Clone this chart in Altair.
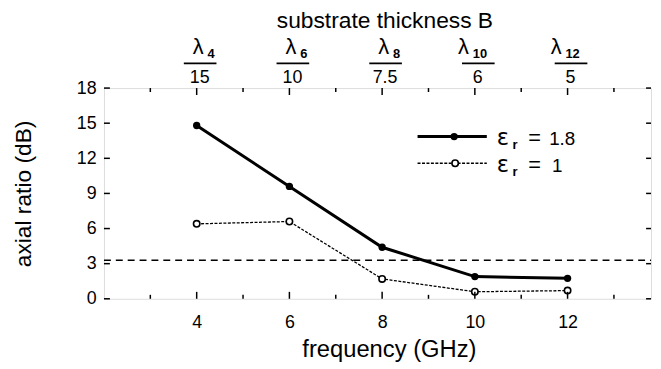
import altair as alt
import pandas as pd

# ---- data ----
freq = [4, 6, 8, 10, 12]
ar_er18 = [14.8, 9.6, 4.4, 1.9, 1.75]
ar_er1 = [6.4, 6.6, 1.7, 0.6, 0.7]
ref_level = [3.3]
sub_labels = ["4", "6", "8", "10", "12"]
denoms = ["15", "10", "7.5", "6", "5"]
y_ticks = [0, 3, 6, 9, 12, 15, 18]
x_major = [4, 6, 8, 10, 12]
x_minor = [3, 5, 7, 9, 11, 13]

FONT = "Liberation Sans"
W, H = 553, 213

xs = alt.Scale(domain=[2, 13.8], nice=False, zero=False)
ys = alt.Scale(domain=[0, 18], nice=False)

xaxis = alt.Axis(values=x_major, ticks=False, domain=False, grid=False,
                 labelFont=FONT, labelFontSize=18, labelPadding=15, labelColor="black",
                 title="frequency (GHz)", titleFont=FONT, titleFontSize=24,
                 titleFontWeight="normal", titleColor="black", titlePadding=6, titleX=288)
yaxis = alt.Axis(values=y_ticks, ticks=False, domain=False, grid=False,
                 labelFont=FONT, labelFontSize=18, labelPadding=8, labelColor="black",
                 title="axial ratio (dB)", titleFont=FONT, titleFontSize=23,
                 titleFontWeight="normal", titleColor="black", titlePadding=41)


def X(field):
    return alt.X(field, type="quantitative", scale=xs, axis=xaxis)


def Y(field):
    return alt.Y(field, type="quantitative", scale=ys, axis=yaxis)


df18 = pd.DataFrame({"f": freq, "ar": ar_er18})
df1 = pd.DataFrame({"f": freq, "ar": ar_er1})
top = pd.DataFrame({"f": freq, "sub": sub_labels, "den": denoms})
yt = pd.DataFrame({"v": y_ticks})
xmaj = pd.DataFrame({"v": x_major})
xmin = pd.DataFrame({"v": x_minor})
ref = pd.DataFrame({"v": ref_level})

layers = []

# series
layers.append(alt.Chart(df18).mark_line(color="black", strokeWidth=3).encode(x=X("f"), y=Y("ar")))
layers.append(alt.Chart(df18).mark_point(shape="circle", filled=True, color="black", size=55, opacity=1)
              .encode(x=X("f"), y=Y("ar")))
layers.append(alt.Chart(df1).mark_line(color="black", strokeWidth=1.3, strokeDash=[3, 1.5]).encode(x=X("f"), y=Y("ar")))
layers.append(alt.Chart(df1).mark_point(shape="circle", filled=True, fill="white", stroke="black",
                                         strokeWidth=1.6, size=42, opacity=1)
              .encode(x=X("f"), y=Y("ar")))

# reference dashed line
layers.append(alt.Chart(ref).mark_rule(color="black", strokeWidth=1.5, strokeDash=[7, 5])
              .encode(y=Y("v"), x=alt.value(0), x2=alt.value(W)))

# inward ticks
layers.append(alt.Chart(yt).mark_rule(color="black", strokeWidth=1.5)
              .encode(y=Y("v"), x=alt.value(0), x2=alt.value(6)))
layers.append(alt.Chart(yt).mark_rule(color="black", strokeWidth=1.5)
              .encode(y=Y("v"), x=alt.value(W - 5), x2=alt.value(W)))
layers.append(alt.Chart(xmaj).mark_rule(color="black", strokeWidth=1.5)
              .encode(x=X("v"), y=alt.value(H), y2=alt.value(H - 7)))
layers.append(alt.Chart(xmin).mark_rule(color="black", strokeWidth=1.5)
              .encode(x=X("v"), y=alt.value(H), y2=alt.value(H - 4)))
layers.append(alt.Chart(xmaj).mark_rule(color="black", strokeWidth=1.5)
              .encode(x=X("v"), y=alt.value(0), y2=alt.value(7)))
layers.append(alt.Chart(xmin).mark_rule(color="black", strokeWidth=1.5)
              .encode(x=X("v"), y=alt.value(0), y2=alt.value(4)))

# top axis: substrate thickness fractions
topc = alt.Chart(top).transform_calculate(lx="datum.f + (length(datum.sub) > 1 ? -0.28 : 0)")
layers.append(topc.mark_text(align="right", baseline="alphabetic", font=FONT, fontSize=22, dx=7, color="black")
              .encode(x=X("lx"), y=alt.value(-34), text=alt.value("λ")))
layers.append(topc.mark_text(align="left", baseline="alphabetic", font=FONT, fontSize=13, dx=11,
                             fontWeight="bold", color="black")
              .encode(x=X("lx"), y=alt.value(-30), text=alt.Text("sub:N")))
layers.append(alt.Chart(top).mark_rule(color="black", strokeWidth=1.6, xOffset=-13, x2Offset=20)
              .encode(x=X("f"), x2=alt.X2("f"), y=alt.value(-25)))
layers.append(alt.Chart(top).mark_text(align="center", baseline="alphabetic", font=FONT, fontSize=18, dx=3,
                                       color="black")
              .encode(x=X("f"), y=alt.value(-5), text=alt.Text("den:N")))
layers.append(alt.Chart(pd.DataFrame({"t": ["substrate thickness B"]}))
              .mark_text(align="center", baseline="alphabetic", font=FONT, fontSize=23, color="black")
              .encode(x=alt.value(284), y=alt.value(-61), text=alt.Text("t:N")))

# manual legend
leg1 = pd.DataFrame({"eps": ["ε"], "r": ["r"], "eq": ["="], "val": ["1.8"]})
leg2 = pd.DataFrame({"eps": ["ε"], "r": ["r"], "eq": ["="], "val": ["1"]})
for dfl, ly, thick, vx in [(leg1, 49, True, 450), (leg2, 76, False, 453)]:
    if thick:
        layers.append(alt.Chart(dfl).mark_rule(color="black", strokeWidth=3)
                      .encode(x=alt.value(317), x2=alt.value(387), y=alt.value(ly)))
        layers.append(alt.Chart(dfl).mark_point(shape="circle", filled=True, color="black", size=55, opacity=1)
                      .encode(x=alt.value(354), y=alt.value(ly)))
    else:
        layers.append(alt.Chart(dfl).mark_rule(color="black", strokeWidth=1.3, strokeDash=[3, 1.5])
                      .encode(x=alt.value(317), x2=alt.value(387), y=alt.value(ly)))
        layers.append(alt.Chart(dfl).mark_point(shape="circle", filled=True, fill="white", stroke="black",
                                                strokeWidth=1.6, size=42, opacity=1)
                      .encode(x=alt.value(355), y=alt.value(ly)))
    b = ly + 9
    layers.append(alt.Chart(dfl).mark_text(align="left", baseline="alphabetic", font="DejaVu Sans", fontSize=23,
                                           color="black")
                  .encode(x=alt.value(397), y=alt.value(b), text=alt.Text("eps:N")))
    layers.append(alt.Chart(dfl).mark_text(align="left", baseline="alphabetic", font=FONT, fontSize=13,
                                           fontWeight="bold", color="black")
                  .encode(x=alt.value(413), y=alt.value(b + 4), text=alt.Text("r:N")))
    layers.append(alt.Chart(dfl).mark_text(align="left", baseline="alphabetic", font=FONT, fontSize=22, color="black")
                  .encode(x=alt.value(429), y=alt.value(b), text=alt.Text("eq:N")))
    layers.append(alt.Chart(dfl).mark_text(align="left", baseline="alphabetic", font=FONT, fontSize=19, color="black")
                  .encode(x=alt.value(vx), y=alt.value(b), text=alt.Text("val:N")))

chart = alt.layer(*layers).properties(
    width=W, height=H,
    autosize=alt.AutoSizeParams(type="none"),
    padding={"left": 97, "top": 79, "right": 2, "bottom": 66},
).configure_view(stroke="black", strokeWidth=2.5).configure(background="white")

chart.save("out.html", embed_options={"renderer": "svg", "actions": False})
